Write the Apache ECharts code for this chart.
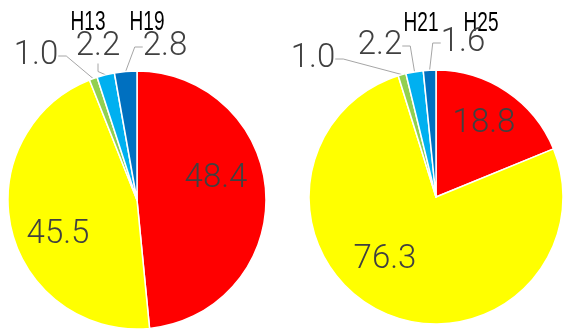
<!DOCTYPE html>
<html>
<head>
<meta charset="utf-8">
<script src="https://cdn.jsdelivr.net/npm/echarts@6/dist/echarts.min.js"></script>
<style>
html,body{margin:0;padding:0;background:#fff;}
#chart{width:563px;height:329px;}
</style>
</head>
<body>
<div id="chart"></div>
<script>
// ---- data ----
const categories = ['区分A', '区分B', '区分C', '区分D', '区分E'];
const leftValues = [48.4, 45.5, 1.0, 2.2, 2.8];
const rightValues = [18.8, 76.3, 1.0, 2.2, 1.6];
const periodLabels = ['H13', 'H19', 'H21', 'H25'];

// ---- styles / layout ----
const COLORS = ['#FF0000', '#FFFF00', '#92D050', '#00B0F0', '#0070C0'];
const NUM_FONT = "Roboto, 'Liberation Sans', sans-serif";
const HEAD_FONT = "'Liberation Sans', Arial, sans-serif";
// label anchor positions (pixels) per series, per slice
const LABEL_POS = [
  [[216, 179], [58, 235], [36, 56], [98, 47], [165, 47]],
  [[484, 124], [385, 260], [313, 59], [380, 46], [463, 43]]
];
const HEAD_POS = [[88, 22], [147, 22], [421, 23], [481, 23]];

function makeSeries(values, center, radius) {
  return {
    type: 'pie',
    center: center,
    radius: radius,
    startAngle: 90,
    clockwise: true,
    avoidLabelOverlap: false,
    animation: false,
    itemStyle: { borderColor: '#ffffff', borderWidth: 1.5 },
    label: {
      show: true,
      formatter: p => p.value.toFixed(1),
      fontFamily: NUM_FONT,
      fontWeight: 300,
      fontSize: 33,
      color: '#404040'
    },
    labelLine: { show: true, length: 8, length2: 8, smooth: false,
      lineStyle: { color: '#a6a6a6', width: 1 } },
    emphasis: { disabled: true },
    data: values.map((v, i) => ({
      name: categories[i],
      value: v,
      itemStyle: { color: COLORS[i] },
      label: { position: i < 2 ? 'inside' : 'outside' },
      labelLine: { show: i >= 2 }
    })),
    labelLayout: function (p) {
      const pos = LABEL_POS[p.seriesIndex][p.dataIndex];
      return { x: pos[0], y: pos[1], align: 'center', verticalAlign: 'middle' };
    }
  };
}

const chart = echarts.init(document.getElementById('chart'), null, { renderer: 'canvas' });
chart.setOption({
  backgroundColor: '#ffffff',
  animation: false,
  series: [
    makeSeries(leftValues, [137, 200], 129),
    makeSeries(rightValues, [436, 197], 127)
  ],
  graphic: periodLabels.map((t, i) => ({
    type: 'text',
    x: HEAD_POS[i][0],
    y: HEAD_POS[i][1],
    scaleX: 0.68,
    style: {
      text: t,
      fontFamily: HEAD_FONT,
      fontSize: 28,
      fill: '#000000',
      align: 'center',
      verticalAlign: 'middle'
    }
  }))
});
</script>
</body>
</html>
